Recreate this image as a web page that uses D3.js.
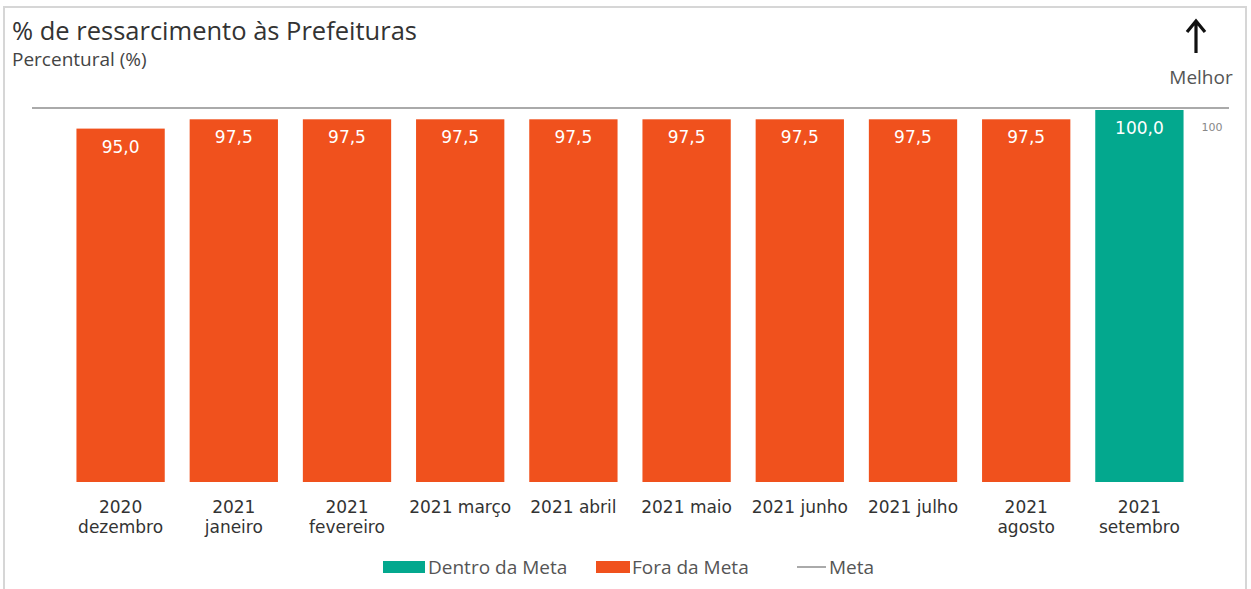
<!DOCTYPE html>
<html>
<head>
<meta charset="utf-8">
<script src="https://cdn.jsdelivr.net/npm/d3@7"></script>
<style>
  html, body { margin: 0; padding: 0; background: #fff; }
  svg { display: block; }
</style>
</head>
<body>
<svg id="chart" width="1251" height="589"></svg>
<script>
// data
const categories = ['2020 dezembro', '2021 janeiro', '2021 fevereiro', '2021 março', '2021 abril',
  '2021 maio', '2021 junho', '2021 julho', '2021 agosto', '2021 setembro']
const tickLabels = [['2020', 'dezembro'], ['2021', 'janeiro'], ['2021', 'fevereiro'], ['2021 março'], ['2021 abril'],
  ['2021 maio'], ['2021 junho'], ['2021 julho'], ['2021', 'agosto'], ['2021', 'setembro']]
const values = [95.0, 97.5, 97.5, 97.5, 97.5, 97.5, 97.5, 97.5, 97.5, 100.0]
const meta = 100
const legendItems = ['Dentro da Meta', 'Fora da Meta', 'Meta']

const colorIn = '#03a88e'
const colorOut = '#f0511d'
const uiFont = '"Open Sans", "Noto Sans", sans-serif'
const numFont = '"DejaVu Sans", Verdana, sans-serif'

const svg = d3.select('#chart')

// frame
svg.append('rect')
  .attr('x', 4).attr('y', 7).attr('width', 1242).attr('height', 600)
  .attr('fill', 'none').attr('stroke', '#d6d6d6').attr('stroke-width', 2)

// titles
svg.append('text').attr('x', 12).attr('y', 40)
  .attr('font-family', uiFont).attr('font-size', 25.5).attr('fill', '#333')
  .text('% de ressarcimento às Prefeituras')
svg.append('text').attr('x', 12).attr('y', 66)
  .attr('font-family', uiFont).attr('font-size', 19).attr('fill', '#444')
  .text('Percentural (%)')

// "better" arrow
svg.append('path')
  .attr('d', 'M1196,53 L1196,23 M1187,32 L1196,21 L1205,32')
  .attr('fill', 'none').attr('stroke', '#111').attr('stroke-width', 3.2)
svg.append('text').attr('x', 1201).attr('y', 84).attr('text-anchor', 'middle')
  .attr('font-family', uiFont).attr('font-size', 19).attr('fill', '#555')
  .text('Melhor')

let x = d3.scaleBand()
  .domain(categories)
  .range([64, 1196])
  .paddingInner(0.22)
  .paddingOuter(0.11)

let y = d3.scaleLinear()
  .domain([0, 100])
  .range([482, 110])

let plot = svg.append('g')

plot.selectAll('rect.bar')
  .data(values)
  .join('rect')
  .attr('class', 'bar')
  .attr('x', (d, i) => x(categories[i]))
  .attr('y', d => y(d))
  .attr('width', x.bandwidth())
  .attr('height', d => y(0) - y(d))
  .attr('fill', d => d >= meta ? colorIn : colorOut)

// target line
plot.append('line')
  .attr('x1', 32).attr('x2', 1229)
  .attr('y1', y(meta) - 2).attr('y2', y(meta) - 2)
  .attr('stroke', '#aaa').attr('stroke-width', 2)

plot.append('text')
  .attr('x', 1212).attr('y', y(meta) + 21).attr('text-anchor', 'middle')
  .attr('font-family', numFont).attr('font-size', 11).attr('fill', '#888')
  .text(meta)

// value labels
plot.selectAll('text.val')
  .data(values)
  .join('text')
  .attr('class', 'val')
  .attr('x', (d, i) => x(categories[i]) + x.bandwidth() / 2)
  .attr('y', d => y(d) + 24)
  .attr('text-anchor', 'middle')
  .attr('font-family', numFont).attr('font-size', 17).attr('fill', '#fff')
  .text(d => d.toFixed(1).replace('.', ','))

// x axis labels
let axis = svg.append('g')
  .attr('transform', `translate(0,${y(0)})`)
  .call(d3.axisBottom(x).tickSize(0).tickPadding(0))
axis.select('.domain').remove()
axis.selectAll('.tick text').each(function (d, i) {
  let t = d3.select(this)
  t.text(null)
    .attr('y', 31)
    .attr('dy', null)
    .attr('font-family', numFont).attr('font-size', 17).attr('fill', '#333')
  tickLabels[i].forEach((line, k) => {
    t.append('tspan').attr('x', 0).attr('y', 31 + k * 20).text(line)
  })
})

// legend
let leg = svg.append('g').attr('font-family', uiFont).attr('font-size', 19).attr('fill', '#555')
leg.append('rect').attr('x', 383).attr('y', 561).attr('width', 42).attr('height', 12).attr('fill', colorIn)
leg.append('text').attr('x', 428).attr('y', 574).text(legendItems[0])
leg.append('rect').attr('x', 596).attr('y', 561).attr('width', 34).attr('height', 12).attr('fill', colorOut)
leg.append('text').attr('x', 632).attr('y', 574).text(legendItems[1])
leg.append('line').attr('x1', 797).attr('x2', 826).attr('y1', 567).attr('y2', 567)
  .attr('stroke', '#aaa').attr('stroke-width', 2)
leg.append('text').attr('x', 829).attr('y', 574).text(legendItems[2])
</script>
</body>
</html>
